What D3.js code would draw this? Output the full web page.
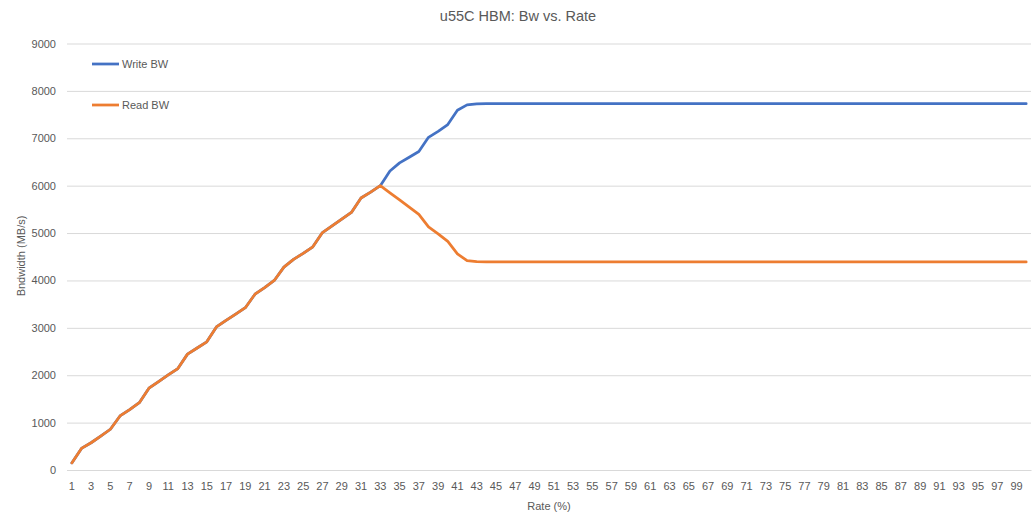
<!DOCTYPE html>
<html lang="en">
  <head>
    <meta charset="utf-8">
    <title>u55C HBM: Bw vs. Rate</title>
    <script src="https://d3js.org/d3.v7.min.js"></script>
    <style>
      body { margin: 0; background: white; }
      text { font-family: "Liberation Sans", Arial, sans-serif; fill: #595959; }
    </style>
  </head>
  <body>
    <script type="text/javascript">

      var w = 1036;
      var h = 524;
      var margin = {top: 43.5, right: 5, bottom: 54, left: 67};

      // rate categories 1..100
      var rates = d3.range(1, 101);
      var rateTicks = d3.range(1, 100, 2);
      var yTicks = [0, 1000, 2000, 3000, 4000, 5000, 6000, 7000, 8000, 9000];

      var writeBW = [
        150, 455, 575, 715, 860, 1140, 1275, 1420, 1726, 1865,
        2005, 2140, 2445, 2575, 2705, 3018, 3158, 3291, 3425, 3710,
        3850, 4000, 4280, 4445, 4570, 4710, 5010, 5150, 5295, 5435,
        5740, 5865, 6000, 6310, 6480, 6600, 6720, 7020, 7147, 7290,
        7590, 7706, 7724, 7730, 7730, 7730, 7730, 7730, 7730, 7730,
        7730, 7730, 7730, 7730, 7730, 7730, 7730, 7730, 7730, 7730,
        7730, 7730, 7730, 7730, 7730, 7730, 7730, 7730, 7730, 7730,
        7730, 7730, 7730, 7730, 7730, 7730, 7730, 7730, 7730, 7730,
        7730, 7730, 7730, 7730, 7730, 7730, 7730, 7730, 7730, 7730,
        7730, 7730, 7730, 7730, 7730, 7730, 7730, 7730, 7730, 7730
      ];

      var readBW = [
        150, 455, 575, 715, 860, 1140, 1275, 1420, 1726, 1865,
        2005, 2140, 2445, 2575, 2705, 3018, 3158, 3291, 3425, 3710,
        3850, 4000, 4280, 4445, 4570, 4710, 5010, 5150, 5295, 5435,
        5740, 5865, 6000, 5850, 5700, 5548, 5395, 5130, 4984, 4823,
        4560, 4417, 4395, 4390, 4390, 4390, 4390, 4390, 4390, 4390,
        4390, 4390, 4390, 4390, 4390, 4390, 4390, 4390, 4390, 4390,
        4390, 4390, 4390, 4390, 4390, 4390, 4390, 4390, 4390, 4390,
        4390, 4390, 4390, 4390, 4390, 4390, 4390, 4390, 4390, 4390,
        4390, 4390, 4390, 4390, 4390, 4390, 4390, 4390, 4390, 4390,
        4390, 4390, 4390, 4390, 4390, 4390, 4390, 4390, 4390, 4390
      ];

      var series = [
        {name: "Write BW", color: "#4472C4", values: writeBW},
        {name: "Read BW", color: "#ED7D31", values: readBW}
      ];

      var svg = d3.select("body")
          .append("svg")
          .attr("width", w)
          .attr("height", h);

      svg.append("rect")
          .attr("width", w)
          .attr("height", h)
          .attr("fill", "white");

      var xScale = d3.scaleBand()
          .domain(rates)
          .range([margin.left, w - margin.right]);

      var yScale = d3.scaleLinear()
          .domain([0, 9000])
          .range([h - margin.bottom, margin.top]);

      var xMid = function(r) { return xScale(r) + xScale.bandwidth() / 2; };

// gridlines + y labels
      var yAxis = d3.axisLeft(yScale)
          .tickValues(yTicks)
          .tickSize(-(w - margin.left - margin.right))
          .tickPadding(11)
          .tickFormat(d3.format("d"));

      var gy = svg.append("g")
          .attr("transform", `translate(${margin.left},0)`)
          .call(yAxis);
      gy.select(".domain").remove();
      gy.selectAll(".tick line").attr("stroke", "#d9d9d9");
      gy.selectAll(".tick text").style("font-size", "11px").attr("fill", "#595959");

// x axis
      var xAxis = d3.axisBottom(xScale)
          .tickValues(rateTicks)
          .tickSize(0)
          .tickPadding(12);

      var gx = svg.append("g")
          .attr("transform", `translate(0,${h - margin.bottom})`)
          .call(xAxis);
      gx.select(".domain").attr("stroke", "#d9d9d9");
      gx.selectAll(".tick text").style("font-size", "11px").attr("fill", "#595959");

// lines
      var line = d3.line()
          .x(function(d, i) { return xMid(rates[i]); })
          .y(function(d) { return yScale(d); });

      svg.selectAll(".series")
          .data(series)
          .enter().append("path")
          .attr("class", "series")
          .attr("d", function(d) { return line(d.values); })
          .attr("fill", "none")
          .attr("stroke", function(d) { return d.color; })
          .attr("stroke-width", 2.75)
          .attr("stroke-linejoin", "round")
          .attr("stroke-linecap", "round");

// legend
      var legend = svg.selectAll(".legend")
          .data(series)
          .enter().append("g")
          .attr("class", "legend")
          .attr("transform", function(d, i) { return `translate(92,${64 + i * 41})`; });

      legend.append("line")
          .attr("x1", 0)
          .attr("x2", 27)
          .attr("stroke", function(d) { return d.color; })
          .attr("stroke-width", 2.75);

      legend.append("text")
          .attr("x", 30)
          .attr("dy", "0.35em")
          .style("font-size", "11px")
          .text(function(d) { return d.name; });

// titles
      svg.append("text")
          .attr("x", 518)
          .attr("y", 21)
          .attr("text-anchor", "middle")
          .style("font-size", "14.5px")
          .text("u55C HBM: Bw vs. Rate");

      svg.append("text")
          .attr("x", 549)
          .attr("y", 510)
          .attr("text-anchor", "middle")
          .style("font-size", "11px")
          .text("Rate (%)");

      svg.append("text")
          .attr("transform", "translate(25,256) rotate(-90)")
          .attr("text-anchor", "middle")
          .style("font-size", "11px")
          .text("Bndwidth (MB/s)");

    </script>
  </body>
</html>
